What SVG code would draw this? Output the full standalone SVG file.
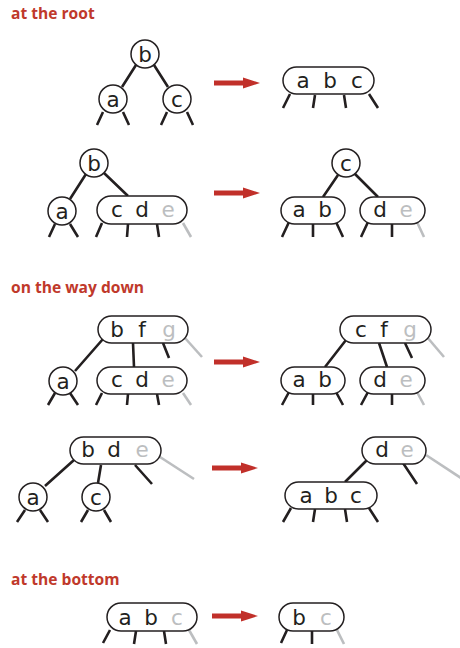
<svg xmlns="http://www.w3.org/2000/svg" xmlns:xlink="http://www.w3.org/1999/xlink" width="460" height="648" viewBox="0 0 460 648">
<style>
.title{font-family:"Open Sans","Liberation Sans",sans-serif;font-weight:bold;font-size:15.6px;fill:#c0392b}
.nd{fill:#fff;stroke:#231f20;stroke-width:1.5}
.k{font-family:"DejaVu Sans","Liberation Sans",sans-serif;font-size:21.5px;fill:#231f20;text-anchor:middle}
.g{fill:#bcbec0}
.e{stroke:#231f20;stroke-width:2.6;fill:none}
.ge{stroke:#bcbec0;stroke-width:2.6;fill:none}
.arr{fill:#c1302a}
</style>
<defs>
<path id="arrow" class="arr" d="M0,-2.5 H29 V-5.5 L46,0 L29,5.5 V2.5 H0 Z"/>
</defs>

<text class="title" x="11" y="19">at the root</text>
<text class="title" x="11" y="293">on the way down</text>
<text class="title" x="11" y="585">at the bottom</text>

<g id="arrows">
<use xlink:href="#arrow" x="214" y="83"/>
<use xlink:href="#arrow" x="214" y="193"/>
<use xlink:href="#arrow" x="214" y="362"/>
<use xlink:href="#arrow" x="212" y="468"/>
<use xlink:href="#arrow" x="212" y="616"/>
</g>

<g id="connectors">
<!-- section 1 left -->
<path class="e" d="M136,65 L122,87 M154,65 L168,87"/>
<path class="e" d="M103,112 L97,125 M123,112 L129,125 M167,112 L161,125 M187,112 L193,125"/>
<!-- section 1 right -->
<path class="e" d="M290,94 L283,108 M315,95 L313,108 M344,95 L346,108 M369,94 L378,108"/>
<!-- section 2 left -->
<path class="e" d="M86,174 L70,199 M104,173 L128,196"/>
<path class="e" d="M55,224 L49,237 M70,224 L78,237 M102,223 L96,237 M128,224 L127,237 M157,224 L159,237"/>
<path class="ge" d="M183,223 L191,237"/>
<!-- section 2 right -->
<path class="e" d="M338,175 L323,197 M355,174 L378,197"/>
<path class="e" d="M289,222 L282,237 M313,224 L313,237 M336,222 L343,237 M368,222 L361,237 M392,224 L392,237"/>
<path class="ge" d="M417,222 L424,237"/>
<!-- section 3 left -->
<path class="e" d="M103,339 L75,371 M133,343 L134,367 M163,343 L169,358"/>
<path class="ge" d="M185,338 L202,357"/>
<path class="e" d="M55,393 L48,405 M70,393 L78,405 M102,393 L96,405 M128,394 L127,405 M157,394 L159,405"/>
<path class="ge" d="M183,393 L191,405"/>
<!-- section 3 right -->
<path class="e" d="M346,340 L325,367 M379,343 L387,367 M405,343 L412,358"/>
<path class="ge" d="M427,337 L444,357"/>
<path class="e" d="M289,392 L282,405 M313,394 L313,405 M336,392 L343,405 M368,392 L361,405 M392,394 L392,405"/>
<path class="ge" d="M417,392 L424,405"/>
<!-- section 4 left -->
<path class="e" d="M74,460 L45,486 M101,465 L98,483 M135,465 L152,484"/>
<path class="ge" d="M160,457 L194,479"/>
<path class="e" d="M25,510 L17,522 M40,510 L48,522 M88,510 L81,522 M104,510 L111,522"/>
<!-- section 4 right -->
<path class="e" d="M367,460 L345,482 M403,463 L417,484"/>
<path class="ge" d="M426,455 L461,478"/>
<path class="e" d="M291,508 L283,522 M315,509 L313,522 M345,509 L347,522 M369,508 L378,522"/>
<!-- section 5 -->
<path class="e" d="M110,630 L103,643 M136,631 L134,644 M164,631 L166,644"/>
<path class="ge" d="M189,630 L197,644"/>
<path class="e" d="M287,630 L281,643 M312,631 L312,644"/>
<path class="ge" d="M337,630 L344,644"/>
</g>

<!-- section 1 -->
<g id="s1-b"><circle class="nd" cx="145" cy="54" r="14"/><text class="k" x="145" y="61.5">b</text></g>
<g id="s1-a"><circle class="nd" cx="113" cy="99" r="14"/><text class="k" x="113" y="106.5">a</text></g>
<g id="s1-c"><circle class="nd" cx="177" cy="99" r="14"/><text class="k" x="177" y="106.5">c</text></g>
<g id="s1-abc"><rect class="nd" x="283" y="67" width="91" height="27" rx="13.5"/><text class="k" x="303" y="88">a</text><text class="k" x="330" y="88">b</text><text class="k" x="357" y="88">c</text></g>

<!-- section 2 -->
<g id="s2-b"><circle class="nd" cx="94" cy="163" r="14"/><text class="k" x="94" y="170.5">b</text></g>
<g id="s2-a"><circle class="nd" cx="62" cy="211" r="14"/><text class="k" x="62" y="218.5">a</text></g>
<g id="s2-cde"><rect class="nd" x="97" y="196" width="90" height="28" rx="14"/><text class="k" x="117" y="217">c</text><text class="k" x="142" y="217">d</text><text class="k g" x="168" y="217">e</text></g>
<g id="s2-c"><circle class="nd" cx="346" cy="163" r="14"/><text class="k" x="346" y="170.5">c</text></g>
<g id="s2-ab"><rect class="nd" x="281" y="197" width="64" height="27" rx="13.5"/><text class="k" x="299" y="217">a</text><text class="k" x="325" y="217">b</text></g>
<g id="s2-de"><rect class="nd" x="360" y="197" width="65" height="27" rx="13.5"/><text class="k" x="380" y="217">d</text><text class="k g" x="406" y="217">e</text></g>

<!-- section 3 -->
<g id="s3-bfg"><rect class="nd" x="98" y="316" width="90" height="27" rx="13.5"/><text class="k" x="117" y="337">b</text><text class="k" x="142" y="337">f</text><text class="k g" x="169" y="337">g</text></g>
<g id="s3-a"><circle class="nd" cx="63" cy="381" r="14"/><text class="k" x="63" y="388.5">a</text></g>
<g id="s3-cde"><rect class="nd" x="97" y="367" width="90" height="27" rx="13.5"/><text class="k" x="117" y="387">c</text><text class="k" x="142" y="387">d</text><text class="k g" x="168" y="387">e</text></g>
<g id="s3-cfg"><rect class="nd" x="340" y="316" width="91" height="27" rx="13.5"/><text class="k" x="361" y="337">c</text><text class="k" x="384" y="337">f</text><text class="k g" x="410" y="337">g</text></g>
<g id="s3-ab"><rect class="nd" x="281" y="367" width="64" height="27" rx="13.5"/><text class="k" x="299" y="387">a</text><text class="k" x="325" y="387">b</text></g>
<g id="s3-de"><rect class="nd" x="360" y="367" width="65" height="27" rx="13.5"/><text class="k" x="380" y="387">d</text><text class="k g" x="406" y="387">e</text></g>

<!-- section 4 -->
<g id="s4-bde"><rect class="nd" x="70" y="437" width="91" height="27" rx="13.5"/><text class="k" x="88" y="457">b</text><text class="k" x="114" y="457">d</text><text class="k g" x="142" y="457">e</text></g>
<g id="s4-a"><circle class="nd" cx="33" cy="497" r="14"/><text class="k" x="33" y="504.5">a</text></g>
<g id="s4-c"><circle class="nd" cx="96" cy="497" r="14"/><text class="k" x="96" y="504.5">c</text></g>
<g id="s4-de"><rect class="nd" x="362" y="437" width="64" height="27" rx="13.5"/><text class="k" x="382" y="457">d</text><text class="k g" x="407" y="457">e</text></g>
<g id="s4-abc"><rect class="nd" x="285" y="482" width="92" height="27" rx="13.5"/><text class="k" x="306" y="502.5">a</text><text class="k" x="331" y="502.5">b</text><text class="k" x="356" y="502.5">c</text></g>

<!-- section 5 -->
<g id="s5-abc"><rect class="nd" x="107" y="603" width="90" height="28" rx="14"/><text class="k" x="125" y="624.5">a</text><text class="k" x="151" y="624.5">b</text><text class="k g" x="177" y="624.5">c</text></g>
<g id="s5-bc"><rect class="nd" x="279" y="603" width="65" height="28" rx="14"/><text class="k" x="299" y="624.5">b</text><text class="k g" x="326" y="624.5">c</text></g>
</svg>
